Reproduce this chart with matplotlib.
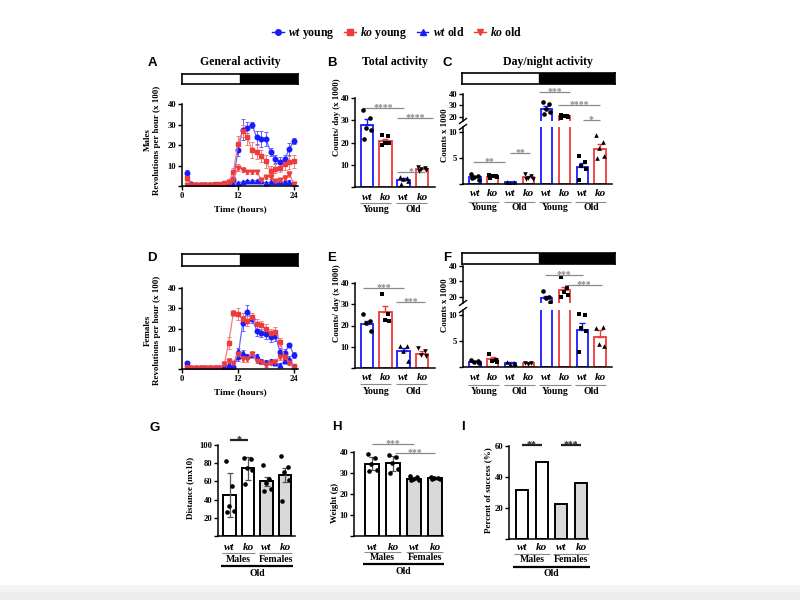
import numpy as np
import matplotlib
matplotlib.use("Agg")
import matplotlib.pyplot as plt
from matplotlib.transforms import blended_transform_factory
from matplotlib.lines import Line2D
from matplotlib.patches import Rectangle

# ---------------- data ----------------
hours = list(range(1, 25))

A_wt_young = [6.2, 0.8, 0.5, 0.5, 0.5, 0.5, 0.5, 0.5, 0.5, 1.0, 3.0, 17.5, 27.5, 28.5, 29.8, 23.7, 22.8, 22.8, 16.7, 13.2, 11.5, 13.0, 18.2, 22.0]
A_wt_young_err = [1.5, 0.3, 0.2, 0.2, 0.2, 0.2, 0.2, 0.2, 0.3, 0.5, 1.5, 3.0, 5.0, 2.5, 1.5, 3.0, 4.0, 3.5, 2.0, 2.0, 2.5, 2.0, 3.0, 1.5]
A_ko_young = [4.0, 0.5, 0.5, 0.5, 0.6, 0.7, 0.8, 1.0, 1.3, 2.0, 6.8, 20.5, 27.0, 24.0, 17.5, 16.5, 14.5, 12.0, 7.5, 8.5, 9.0, 10.5, 11.5, 12.0]
A_ko_young_err = [1.5, 0.3, 0.2, 0.2, 0.3, 0.3, 0.4, 0.5, 0.6, 1.0, 2.0, 4.0, 3.0, 4.0, 4.0, 3.5, 3.0, 3.0, 2.5, 2.0, 2.0, 2.5, 3.0, 3.0]
A_wt_old = [0.5, 0.3, 0.3, 0.3, 0.3, 0.3, 0.3, 0.3, 0.3, 0.3, 0.5, 1.5, 2.0, 2.3, 2.5, 2.5, 2.2, 1.5, 1.8, 2.0, 2.0, 1.8, 2.0, 0.5]
A_wt_old_err = [0.3, 0.1, 0.1, 0.1, 0.1, 0.1, 0.1, 0.1, 0.1, 0.2, 0.3, 0.5, 0.6, 0.6, 0.6, 0.6, 0.6, 0.5, 0.5, 0.6, 0.6, 0.6, 0.8, 0.4]
A_ko_old = [0.5, 0.3, 0.3, 0.3, 0.3, 0.3, 0.5, 0.7, 1.0, 1.8, 3.0, 9.0, 8.0, 7.0, 7.0, 7.0, 3.0, 4.5, 4.5, 2.5, 3.0, 4.0, 6.0, 1.0]
A_ko_old_err = [0.3, 0.1, 0.1, 0.1, 0.1, 0.2, 0.3, 0.4, 0.5, 0.7, 1.0, 1.5, 1.2, 1.0, 1.0, 1.0, 1.0, 1.0, 1.2, 1.0, 1.0, 1.2, 1.5, 0.5]

D_wt_young = [3.0, 0.3, 0.3, 0.3, 0.3, 0.3, 0.3, 0.3, 0.3, 0.3, 0.8, 6.0, 22.5, 28.3, 24.8, 19.0, 18.0, 17.5, 16.0, 16.5, 8.5, 8.0, 12.0, 6.8]
D_wt_young_err = [0.8, 0.1, 0.1, 0.1, 0.1, 0.1, 0.1, 0.1, 0.2, 0.3, 0.5, 2.0, 3.5, 3.5, 2.0, 2.5, 2.0, 2.5, 2.5, 2.5, 2.0, 2.0, 1.0, 1.5]
D_ko_young = [1.0, 0.3, 0.3, 0.3, 0.3, 0.3, 0.3, 0.5, 1.5, 13.0, 27.5, 27.0, 24.5, 23.8, 25.5, 22.0, 21.7, 19.7, 17.8, 18.4, 13.5, 5.5, 4.0, 1.5]
D_ko_young_err = [0.5, 0.1, 0.1, 0.1, 0.1, 0.1, 0.2, 0.3, 0.8, 3.0, 1.5, 3.0, 3.0, 2.5, 2.0, 2.5, 2.0, 2.5, 2.0, 2.5, 2.0, 2.0, 1.5, 0.8]
D_wt_old = [0.3, 0.3, 0.3, 0.3, 0.3, 0.3, 0.3, 0.3, 1.0, 2.0, 1.5, 9.0, 8.0, 6.5, 7.0, 6.5, 4.0, 3.5, 4.0, 3.0, 2.0, 4.0, 5.0, 1.0]
D_wt_old_err = [0.2, 0.1, 0.1, 0.1, 0.1, 0.1, 0.1, 0.2, 0.8, 1.0, 1.0, 1.5, 1.2, 1.0, 1.2, 1.0, 1.0, 1.0, 1.0, 1.0, 1.0, 1.2, 1.2, 0.5]
D_ko_old = [0.5, 0.3, 0.3, 0.3, 0.3, 0.3, 0.3, 0.3, 2.5, 4.0, 3.0, 7.5, 5.0, 5.0, 7.5, 4.0, 3.5, 2.0, 3.0, 3.5, 6.0, 6.0, 3.0, 0.5]
D_ko_old_err = [0.3, 0.1, 0.1, 0.1, 0.1, 0.1, 0.1, 0.2, 1.5, 1.5, 1.0, 1.5, 1.5, 1.5, 1.5, 1.2, 1.0, 1.0, 1.0, 1.2, 1.5, 1.5, 1.2, 0.5]

B_means = [28.0, 20.5, 3.3, 8.0]
B_err = [2.5, 1.2, 0.6, 0.6]
B_pts = [[34.5, 31.0, 26.5, 25.5, 21.5], [23.3, 23.0, 20.0, 19.7, 18.8],
         [4.5, 4.0, 3.5, 2.5, 1.5], [9.0, 8.5, 8.0, 7.5, 7.0]]

E_means = [20.5, 26.3, 8.0, 6.5]
E_err = [1.8, 3.0, 1.3, 1.3]
E_pts = [[25.5, 22.0, 21.0, 17.5], [35.0, 25.5, 22.5, 22.0],
         [10.5, 10.5, 8.0, 3.5], [9.5, 8.0, 6.0, 5.5]]

C_means = [1.3, 1.4, 0.3, 1.3, 27.0, 20.5, 3.2, 6.8]
C_err = [0.25, 0.2, 0.1, 0.25, 2.5, 0.5, 0.8, 0.9]
C_pts = [[2.0, 1.5, 1.3, 0.8, 1.1], [1.8, 1.6, 1.5, 1.3, 1.2], [0.4, 0.3, 0.2],
         [2.0, 1.6, 1.2, 0.9, 1.0], [33.0, 31.0, 27.0, 24.0, 23.0],
         [21.5, 21.0, 20.5, 20.0, 19.5], [5.5, 4.2, 3.5, 2.8, 0.8], [9.5, 8.2, 7.0, 5.5, 5.0]]

F_means = [1.0, 1.5, 0.8, 0.7, 19.0, 24.5, 7.2, 5.8]
F_err = [0.15, 0.35, 0.1, 0.1, 1.5, 2.0, 1.3, 1.3]
F_pts = [[1.3, 1.2, 1.0, 0.8], [2.6, 1.4, 1.2, 1.0], [1.0, 0.8, 0.6, 0.5], [0.8, 0.7, 0.6],
         [24.0, 20.0, 19.0, 16.5], [33.0, 26.0, 23.0, 21.0, 20.0],
         [10.2, 10.0, 7.5, 7.0, 2.8], [7.5, 7.8, 4.5, 4.0]]

G_means = [44.8, 74.5, 60.0, 67.0]
G_err = [24.0, 12.5, 5.0, 7.5]
G_pts = [[82, 55, 33, 28, 26], [86, 85, 75, 73, 57], [78, 63, 58, 52, 49], [88, 76, 70, 62, 39]]

H_means = [34.4, 34.6, 27.3, 27.5]
H_err = [3.2, 3.5, 0.8, 0.5]
H_pts = [[39, 37, 34.5, 31.5, 31], [38.5, 37.5, 35, 32, 30], [28.5, 28, 27, 26.5, 26.5], [28, 27.5, 27.5, 27, 27]]

I_vals = [31.5, 50.0, 22.5, 36.0]

genotypes4 = ["wt", "ko", "wt", "ko"]
genotypes8 = ["wt", "ko"] * 4
ages2 = ["Young", "Old"]
ages4 = ["Young", "Old", "Young", "Old"]
sexes = ["Males", "Females"]
legend_labels = [r"$wt$ young", r"$ko$ young", r"$wt$ old", r"$ko$ old"]

# ---------------- style ----------------
plt.rcParams['font.family'] = 'Liberation Serif'
plt.rcParams['font.weight'] = 'bold'
plt.rcParams['mathtext.fontset'] = 'custom'
plt.rcParams['mathtext.rm'] = 'Liberation Serif:bold'
plt.rcParams['mathtext.it'] = 'Liberation Serif:italic:bold'
plt.rcParams['mathtext.bf'] = 'Liberation Serif:bold'

BLUE = '#1a1aff'
BLUE_L = '#6464ff'
RED = '#ee3b3b'
RED_L = '#f47c7c'
GREY = '#8a8a8a'
FEM = '#d9d9d9'
TICK_FS = 6.2

W, H = 800, 600
fig = plt.figure(figsize=(8, 6), dpi=100)
fig.patches.append(Rectangle((0, 0), 1, 8 / H, transform=fig.transFigure,
                             facecolor='#ececec', edgecolor='none', zorder=-5))
fig.patches.append(Rectangle((0, 8 / H), 1, 7 / H, transform=fig.transFigure,
                             facecolor='#f4f4f4', edgecolor='none', zorder=-5))


def fy(y):
    return 1 - y / H


def fx(x):
    return x / W


def add_ax(x0, y0, x1, y1):
    return fig.add_axes([x0 / W, 1 - y1 / H, (x1 - x0) / W, (y1 - y0) / H])


def style(ax):
    for s in ['top', 'right']:
        ax.spines[s].set_visible(False)
    for s in ['left', 'bottom']:
        ax.spines[s].set_linewidth(1.1)
    ax.tick_params(direction='out', length=3, width=1, labelsize=TICK_FS, pad=1.2)
    ax.patch.set_alpha(0)


def tr(ax):
    return blended_transform_factory(ax.transData, fig.transFigure)


def hline(ax, x0, x1, y, color=GREY, lw=0.8):
    ax.plot([x0, x1], [fy(y), fy(y)], color=color, lw=lw, transform=tr(ax),
            clip_on=False, solid_capstyle='butt')


def sig(ax, x0, x1, y, label, color=GREY, lw=0.9, fs=7):
    hline(ax, x0, x1, y, color=color, lw=lw)
    ax.text((x0 + x1) / 2, fy(y + 2.2), label, transform=tr(ax), ha='center',
            va='baseline', fontsize=fs, color=color)


def glabel(ax, x, y, s, fs=7.5, italic=False):
    ax.text(x, fy(y), s, transform=tr(ax), ha='center', va='center', fontsize=fs,
            fontstyle='italic' if italic else 'normal')


def daynight(x0, y0, x1, y1):
    a = add_ax(x0, y0, x1, y1)
    a.set_xlim(0, 24)
    a.set_ylim(0, 1)
    a.axvspan(12, 24, color='black')
    a.set_xticks([])
    a.set_yticks([])
    for s in a.spines.values():
        s.set_linewidth(1.2)


JIT = [-0.2, 0.16, -0.04, 0.22, -0.16, 0.06]


def ts_panel(ax, data):
    for y, e, c, cl, m in data:
        ax.errorbar(hours, y, yerr=e, color=cl, marker=m, ms=3.3, mfc=c, mec=c,
                    lw=0.9, elinewidth=0.7, ecolor=cl, capsize=1.5, capthick=0.7)
    ax.set_xlim(0, (298 - 182) / (112 / 24))
    ax.set_ylim(0, 40)
    ax.set_xticks([0, 12, 24])
    ax.set_yticks([0, 10, 20, 30, 40])
    ax.set_yticklabels(['', '10', '20', '30', '40'])
    style(ax)


def colored_bars(ax, means, errs, pts, colors, markers, width, lo=None, hi=None):
    pos = np.arange(len(means))
    ax.bar(pos, means, width, facecolor='none', edgecolor=colors, linewidth=1.3, zorder=2)
    for i, p in enumerate(pos):
        ax.errorbar(p, means[i], yerr=[[0], [errs[i]]], fmt='none', ecolor=colors[i],
                    elinewidth=1.0, capsize=2.5, capthick=1.0, zorder=3)
        vals = np.array(pts[i], dtype=float)
        offs = np.array(JIT[:len(vals)])
        sel = np.ones(len(vals), bool)
        if lo is not None:
            sel &= vals >= lo
        if hi is not None:
            sel &= vals <= hi
        ax.scatter(p + offs[sel], vals[sel], marker=markers[i], s=11, color='black',
                   zorder=4, linewidths=0)


# ---------------- legend ----------------
handles = [Line2D([], [], color=BLUE, marker='o', ms=4, lw=1),
           Line2D([], [], color=RED, marker='s', ms=4, lw=1),
           Line2D([], [], color=BLUE, marker='^', ms=4, lw=1),
           Line2D([], [], color=RED, marker='v', ms=4, lw=1)]
fig.legend(handles, legend_labels, loc='center', bbox_to_anchor=(fx(397), fy(33)), ncol=4,
           frameon=False, fontsize=8.5, handlelength=1.0, columnspacing=0.8,
           handletextpad=0.35)

# ---------------- panel letters / titles ----------------
for letter, x, y in [('A', 152, 63), ('B', 332, 63), ('C', 447, 63),
                     ('D', 152, 258), ('E', 332, 258), ('F', 447, 258),
                     ('G', 155, 428), ('H', 337, 427), ('I', 463, 427)]:
    fig.text(fx(x), fy(y), letter, fontsize=9.5, fontweight='bold', family='Liberation Sans',
             ha='center', va='center')
fig.text(fx(240), fy(62), 'General activity', fontsize=8.5, ha='center', va='center')
fig.text(fx(395), fy(62), 'Total activity', fontsize=8.5, ha='center', va='center')
fig.text(fx(548), fy(62), 'Day/night activity', fontsize=8.5, ha='center', va='center')

# ---------------- A ----------------
daynight(182, 74, 298, 84)
axA = add_ax(182, 104, 298, 186)
ts_panel(axA, [(A_wt_young, A_wt_young_err, BLUE, BLUE_L, 'o'),
               (A_ko_young, A_ko_young_err, RED, RED_L, 's'),
               (A_wt_old, A_wt_old_err, BLUE, BLUE_L, '^'),
               (A_ko_old, A_ko_old_err, RED, RED_L, 'v')])
fig.text(fx(148), fy(140), 'Males', rotation=90, fontsize=6.5, ha='center', va='center')
fig.text(fx(157), fy(140), 'Revolutions per hour (x 100)', rotation=90, fontsize=6.5,
         ha='center', va='center')
fig.text(fx(240), fy(209), 'Time (hours)', fontsize=6.8, ha='center', va='center')

# ---------------- D ----------------
daynight(182, 254, 298, 266)
axD = add_ax(182, 288, 298, 369)
ts_panel(axD, [(D_wt_young, D_wt_young_err, BLUE, BLUE_L, 'o'),
               (D_ko_young, D_ko_young_err, RED, RED_L, 's'),
               (D_wt_old, D_wt_old_err, BLUE, BLUE_L, '^'),
               (D_ko_old, D_ko_old_err, RED, RED_L, 'v')])
fig.text(fx(148), fy(330), 'Females', rotation=90, fontsize=6.5, ha='center', va='center')
fig.text(fx(157), fy(330), 'Revolutions per hour (x 100)', rotation=90, fontsize=6.5,
         ha='center', va='center')
fig.text(fx(240), fy(392), 'Time (hours)', fontsize=6.8, ha='center', va='center')

# ---------------- B / E ----------------
cols4 = [BLUE, RED, BLUE, RED]
mk4 = ['o', 's', '^', 'v']
sp4 = 18.33
xl4 = (-(367 - 355) / sp4, 3 + (435 - 422) / sp4)


def total_panel(box, means, errs, pts, ylab_y, lab_ys):
    ax = add_ax(*box)
    colored_bars(ax, means, errs, pts, cols4, mk4, 0.68)
    ax.set_xlim(*xl4)
    ax.set_ylim(0, 40)
    ax.set_xticks([])
    ax.set_yticks([0, 10, 20, 30, 40])
    ax.set_yticklabels(['', '10', '20', '30', '40'])
    style(ax)
    fig.text(fx(337), fy(ylab_y), 'Counts/ day (x 1000)', rotation=90, fontsize=6.3,
             ha='center', va='center')
    y1, y2, y3 = lab_ys
    for i, g in enumerate(genotypes4):
        glabel(ax, i, y1, g, fs=8, italic=True)
    for k, a in enumerate(ages2):
        hline(ax, 2 * k - 0.4, 2 * k + 1.3, y2)
        glabel(ax, 2 * k + 0.5, y3, a, fs=7)
    return ax


axB = total_panel((355, 98, 435, 187), B_means, B_err, B_pts, 117, (197, 203, 209))
sig(axB, -0.2, 2.0, 108, '****')
sig(axB, 1.65, 3.6, 118, '****')
sig(axB, 1.65, 3.15, 172, '*')

axE = total_panel((355, 283, 435, 368), E_means, E_err, E_pts, 303, (378, 384, 392))
sig(axE, -0.2, 2.0, 288, '***')
sig(axE, 1.6, 3.15, 302, '***')

# ---------------- C / F (broken axes) ----------------
cols8 = [BLUE, RED] * 4
mk8 = ['o', 's', '^', 'v', 'o', 's', 's', '^']
sp8 = (600 - 475) / 7
xl8 = (-(475 - 463) / sp8, 7 + (612 - 600) / sp8)


def daynight_panel(top_box, bot_box, top_lim, means, errs, pts, ylab_y, lab_ys):
    axt = add_ax(*top_box)
    axb = add_ax(*bot_box)
    colored_bars(axt, means, errs, pts, cols8, mk8, 0.62, lo=top_lim[0])
    colored_bars(axb, means, errs, pts, cols8, mk8, 0.62, hi=11)
    for a in (axt, axb):
        a.set_xlim(*xl8)
        a.set_xticks([])
        style(a)
    axt.set_ylim(*top_lim)
    axt.set_yticks([20, 30, 40])
    axt.spines['bottom'].set_visible(False)
    axb.set_ylim(0, 11)
    axb.set_yticks([0, 5, 10])
    axb.set_yticklabels(['', '5', '10'])
    # break marks
    xs = top_box[0]
    for yb in (top_box[3], bot_box[1]):
        fig.add_artist(Line2D([fx(xs - 3.5), fx(xs + 3.5)], [fy(yb + 2.5), fy(yb - 2.5)],
                              color='black', lw=1.0))
    fig.text(fx(445), fy(ylab_y), 'Counts x 1000', rotation=90, fontsize=6.3,
             ha='center', va='center')
    y1, y2, y3 = lab_ys
    for i, g in enumerate(genotypes8):
        glabel(axb, i, y1, g, fs=8, italic=True)
    for k, a in enumerate(ages4):
        hline(axb, 2 * k - 0.4, 2 * k + 1.35, y2)
        glabel(axb, 2 * k + 0.5, y3, a, fs=7)
    return axt, axb


daynight(462, 73, 615, 84)
axCt, axCb = daynight_panel((463, 94, 612, 121), (463, 127, 612, 184), (16.5, 40),
                            C_means, C_err, C_pts, 135, (194, 202, 208))
sig(axCb, -0.1, 1.7, 162, '**')
sig(axCb, 1.95, 3.1, 153, '**')
sig(axCb, 3.6, 5.3, 92, '***')
sig(axCb, 4.65, 7.0, 105, '****')
sig(axCb, 6.05, 7.0, 120, '*')

daynight(462, 253, 615, 264)
axFt, axFb = daynight_panel((463, 266, 612, 303), (463, 310, 612, 367), (16, 40),
                            F_means, F_err, F_pts, 305, (378, 385, 392))
sig(axFb, 3.9, 6.05, 275, '***')
sig(axFb, 5.05, 7.1, 285, '***')

# ---------------- G / H / I ----------------
fills = ['white', 'white', FEM, FEM]


def bw_bars(ax, means, errs, pts, width):
    pos = np.arange(len(means))
    ax.bar(pos, means, width, color=fills, edgecolor='black', linewidth=1.4, zorder=2)
    if errs is not None:
        ax.errorbar(pos, means, yerr=errs, fmt='none', ecolor='#555555', elinewidth=0.9,
                    capsize=2.5, capthick=0.9, zorder=3)
    if pts is not None:
        for i, p in enumerate(pos):
            vals = np.array(pts[i], dtype=float)
            ax.scatter(p + np.array(JIT[:len(vals)]), vals, s=11, color='black', zorder=4,
                       linewidths=0)


def old_labels(ax, ys):
    y1, y2, y3, y4, y5 = ys
    for i, g in enumerate(genotypes4):
        glabel(ax, i, y1, g, fs=8, italic=True)
    for k, s in enumerate(sexes):
        hline(ax, 2 * k - 0.4, 2 * k + 1.4, y2)
        glabel(ax, 2 * k + 0.5, y3, s, fs=7)
    hline(ax, -0.45, 3.45, y4, color='black', lw=1.6)
    glabel(ax, 1.5, y5, 'Old', fs=7)


axG = add_ax(218, 445, 295, 536)
bw_bars(axG, G_means, G_err, G_pts, 0.65)
axG.set_xlim(-(229.5 - 218) / 18.5, 3 + (295 - 285) / 18.5)
axG.set_ylim(0, 100)
axG.set_xticks([])
axG.set_yticks([0, 20, 40, 60, 80, 100])
axG.set_yticklabels(['', '20', '40', '60', '80', '100'])
style(axG)
fig.text(fx(190), fy(488), 'Distance (mx10)', rotation=90, fontsize=6.5, ha='center', va='center')
old_labels(axG, (547, 553, 560, 566, 574))
sig(axG, 0, 1, 440, '*', color='#222222', lw=1.6)

axH = add_ax(354, 452, 443, 536)
bw_bars(axH, H_means, H_err, H_pts, 0.67)
axH.set_xlim(-(372 - 354) / 21, 3 + (443 - 435) / 21)
axH.set_ylim(0, 40)
axH.set_xticks([])
axH.set_yticks([0, 10, 20, 30, 40])
axH.set_yticklabels(['', '10', '20', '30', '40'])
style(axH)
fig.text(fx(335), fy(503), 'Weight (g)', rotation=90, fontsize=6.5, ha='center', va='center')
old_labels(axH, (547, 552, 557, 564, 572))
sig(axH, 0, 2, 444, '***')
sig(axH, 1.1, 3, 453, '***')

axI = add_ax(509, 446, 588, 539)
bw_bars(axI, I_vals, None, None, 0.6)
axI.set_xlim(-(522 - 509) / 19.7, 3 + (588 - 581) / 19.7)
axI.set_ylim(0, 60)
axI.set_xticks([])
axI.set_yticks([0, 20, 40, 60])
axI.set_yticklabels(['', '20', '40', '60'])
style(axI)
fig.text(fx(488), fy(490), 'Percent of success (%)', rotation=90, fontsize=6.5,
         ha='center', va='center')
old_labels(axI, (547, 554, 560, 567, 574))
sig(axI, 0, 1, 445, '**', color='#222222', lw=1.6)
sig(axI, 2, 3, 445, '***', color='#222222', lw=1.6)

fig.savefig('out.png', dpi=100)
